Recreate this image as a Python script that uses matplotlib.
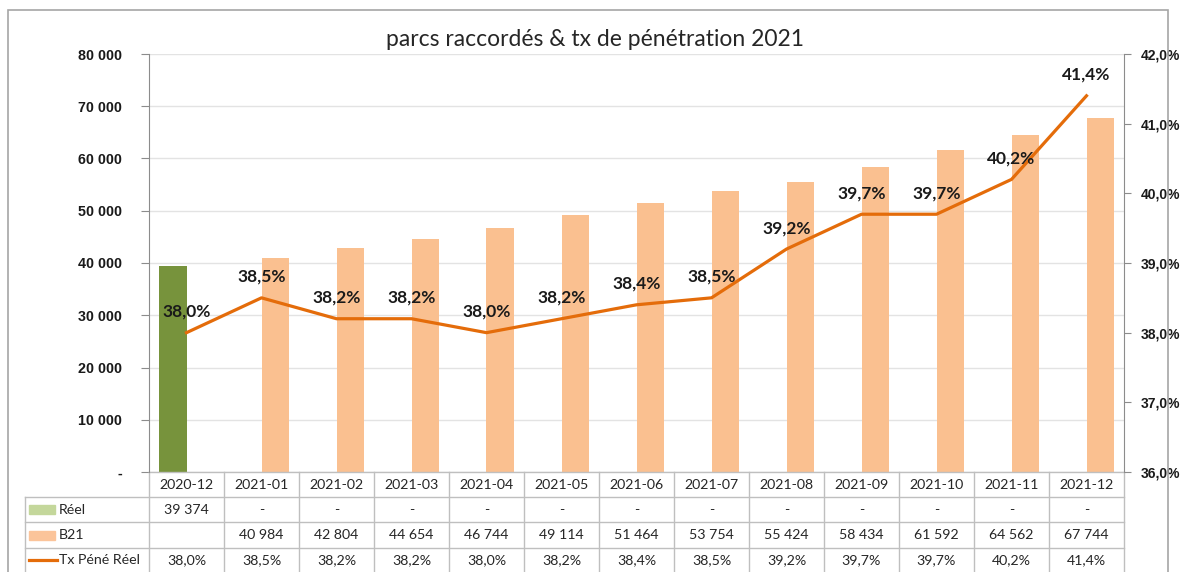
import numpy as np
import matplotlib
matplotlib.use('Agg')
import matplotlib.pyplot as plt
import matplotlib.transforms as mtransforms
from matplotlib.patches import Rectangle
from matplotlib.lines import Line2D
from matplotlib.ticker import FuncFormatter

mois = ['2020-12', '2021-01', '2021-02', '2021-03', '2021-04', '2021-05', '2021-06',
        '2021-07', '2021-08', '2021-09', '2021-10', '2021-11', '2021-12']
reel = [39374] + [np.nan] * 12
b21 = [np.nan, 40984, 42804, 44654, 46744, 49114, 51464,
       53754, 55424, 58434, 61592, 64562, 67744]
tx_pene = [38.0, 38.5, 38.2, 38.2, 38.0, 38.2, 38.4, 38.5, 39.2, 39.7, 39.7, 40.2, 41.4]

W, H = 1181, 572
plt.rcParams['font.family'] = ['Lato', 'DejaVu Sans']

fig = plt.figure(figsize=(W / 100, H / 100), dpi=100)
fig.patch.set_facecolor('white')

# outer chart frame
fig.patches.append(Rectangle((8 / W, -0.01), (1168 - 8) / W, 1 - 10 / H + 0.01,
                             transform=fig.transFigure, fill=False,
                             edgecolor='#a6a6a6', linewidth=1.2))

left_px, right_px, top_px, bot_px = 149, 1124, 54, 472
ax = fig.add_axes([left_px / W, 1 - bot_px / H, (right_px - left_px) / W, (bot_px - top_px) / H])
ax2 = ax.twinx()

x = np.arange(len(mois))
bw = 0.37
ax.bar(x - bw / 2, reel, width=bw, color='#77933C', zorder=2)
ax.bar(x + bw / 2, b21, width=bw, color='#FAC090', zorder=2)
ax.set_xlim(-0.5, len(mois) - 0.5)
ax.set_ylim(0, 80000)
ax.set_yticks(range(0, 80001, 10000))
ax.yaxis.set_major_formatter(FuncFormatter(
    lambda v, p: '-' if v == 0 else f'{int(v):,}'.replace(',', ' ')))
ax.grid(axis='y', color='#e3e3e3', linewidth=1)
ax.set_axisbelow(True)
ax.set_xticks([])

ax2.plot(x, tx_pene, color='#E46C0A', linewidth=2.3, zorder=3)
ax2.set_ylim(36, 42)
ax2.set_yticks(np.arange(36, 42.01, 1))
ax2.yaxis.set_major_formatter(FuncFormatter(lambda v, p: f'{v:.1f}%'.replace('.', ',')))
for i, v in enumerate(tx_pene):
    ax2.annotate(f'{v:.1f}%'.replace('.', ','), (i, v), xytext=(0, 15),
                 textcoords='offset points', ha='center', va='center',
                 fontsize=12.5, fontweight='bold', color='#1a1a1a')

for a in (ax, ax2):
    for s in ('top', 'bottom'):
        a.spines[s].set_visible(False)
ax.spines['right'].set_visible(False)
ax2.spines['left'].set_visible(False)
ax.spines['left'].set_color('#8c8c8c')
ax2.spines['right'].set_color('#8c8c8c')
ax.tick_params(axis='y', direction='out', length=6, color='#8c8c8c', pad=13.5,
               labelsize=10.3, labelcolor='#1a1a1a')
ax2.tick_params(axis='y', direction='out', length=5, color='#8c8c8c', pad=7,
                labelsize=10, labelcolor='#1a1a1a')
for lab in ax.get_yticklabels() + ax2.get_yticklabels():
    lab.set_fontfamily(['Liberation Sans', 'DejaVu Sans'])
    lab.set_fontweight('bold')

fig.text(595 / W, 1 - 40 / H, 'parcs raccordés & tx de pénétration 2021',
         ha='center', va='center', fontsize=16.5, color='#262626')

# data table below the plot
tr = mtransforms.blended_transform_factory(ax.transData, ax.transAxes)
rh = 25.2 / (bot_px - top_px)
x_lab = -0.5 - (left_px - 25) / ((right_px - left_px) / len(mois))
gc = '#bfbfbf'
n = len(mois)
for k in range(n + 1):
    ax.add_line(Line2D([k - 0.5, k - 0.5], [0, -4 * rh], transform=tr,
                       color=gc, linewidth=1, clip_on=False))
ax.add_line(Line2D([x_lab, x_lab], [-rh, -4 * rh], transform=tr,
                   color=gc, linewidth=1, clip_on=False))
ax.add_line(Line2D([-0.5, n - 0.5], [0, 0], transform=tr,
                   color=gc, linewidth=1, clip_on=False))
for r in (1, 2, 3):
    ax.add_line(Line2D([x_lab, n - 0.5], [-r * rh, -r * rh], transform=tr,
                       color=gc, linewidth=1, clip_on=False))

row_reel = ['-' if np.isnan(v) else f'{int(v):,}'.replace(',', ' ') for v in reel]
row_b21 = ['' if np.isnan(v) else f'{int(v):,}'.replace(',', ' ') for v in b21]
row_tx = [f'{v:.1f}%'.replace('.', ',') for v in tx_pene]
tc = '#262626'
for r, row in enumerate([mois, row_reel, row_b21, row_tx]):
    yc = -(r + 0.5) * rh
    for i, t in enumerate(row):
        ax.text(i, yc, t, transform=tr, ha='center', va='center',
                fontsize=10.2, color=tc, clip_on=False)

# row headers with legend keys
px = lambda p: (p - left_px) / (right_px - left_px)
labels = ['Réel', 'B21', 'Tx Péné Réel']
for r, lab in enumerate(labels, start=1):
    yc = -(r + 0.5) * rh
    if r == 1:
        ax.add_patch(Rectangle((px(29), yc - 4.5 / 418), px(55) - px(29), 9 / 418,
                               transform=ax.transAxes, color='#C4D79B', clip_on=False))
    elif r == 2:
        ax.add_patch(Rectangle((px(29), yc - 4.5 / 418), px(55) - px(29), 9 / 418,
                               transform=ax.transAxes, color='#FBC49A', clip_on=False))
    else:
        ax.add_line(Line2D([px(29), px(57)], [yc, yc], transform=ax.transAxes,
                           color='#E46C0A', linewidth=2.3, clip_on=False))
    ax.text(px(59), yc, lab, transform=ax.transAxes, ha='left', va='center',
            fontsize=10.2, color=tc, clip_on=False)

fig.savefig('out.png', dpi=100)
